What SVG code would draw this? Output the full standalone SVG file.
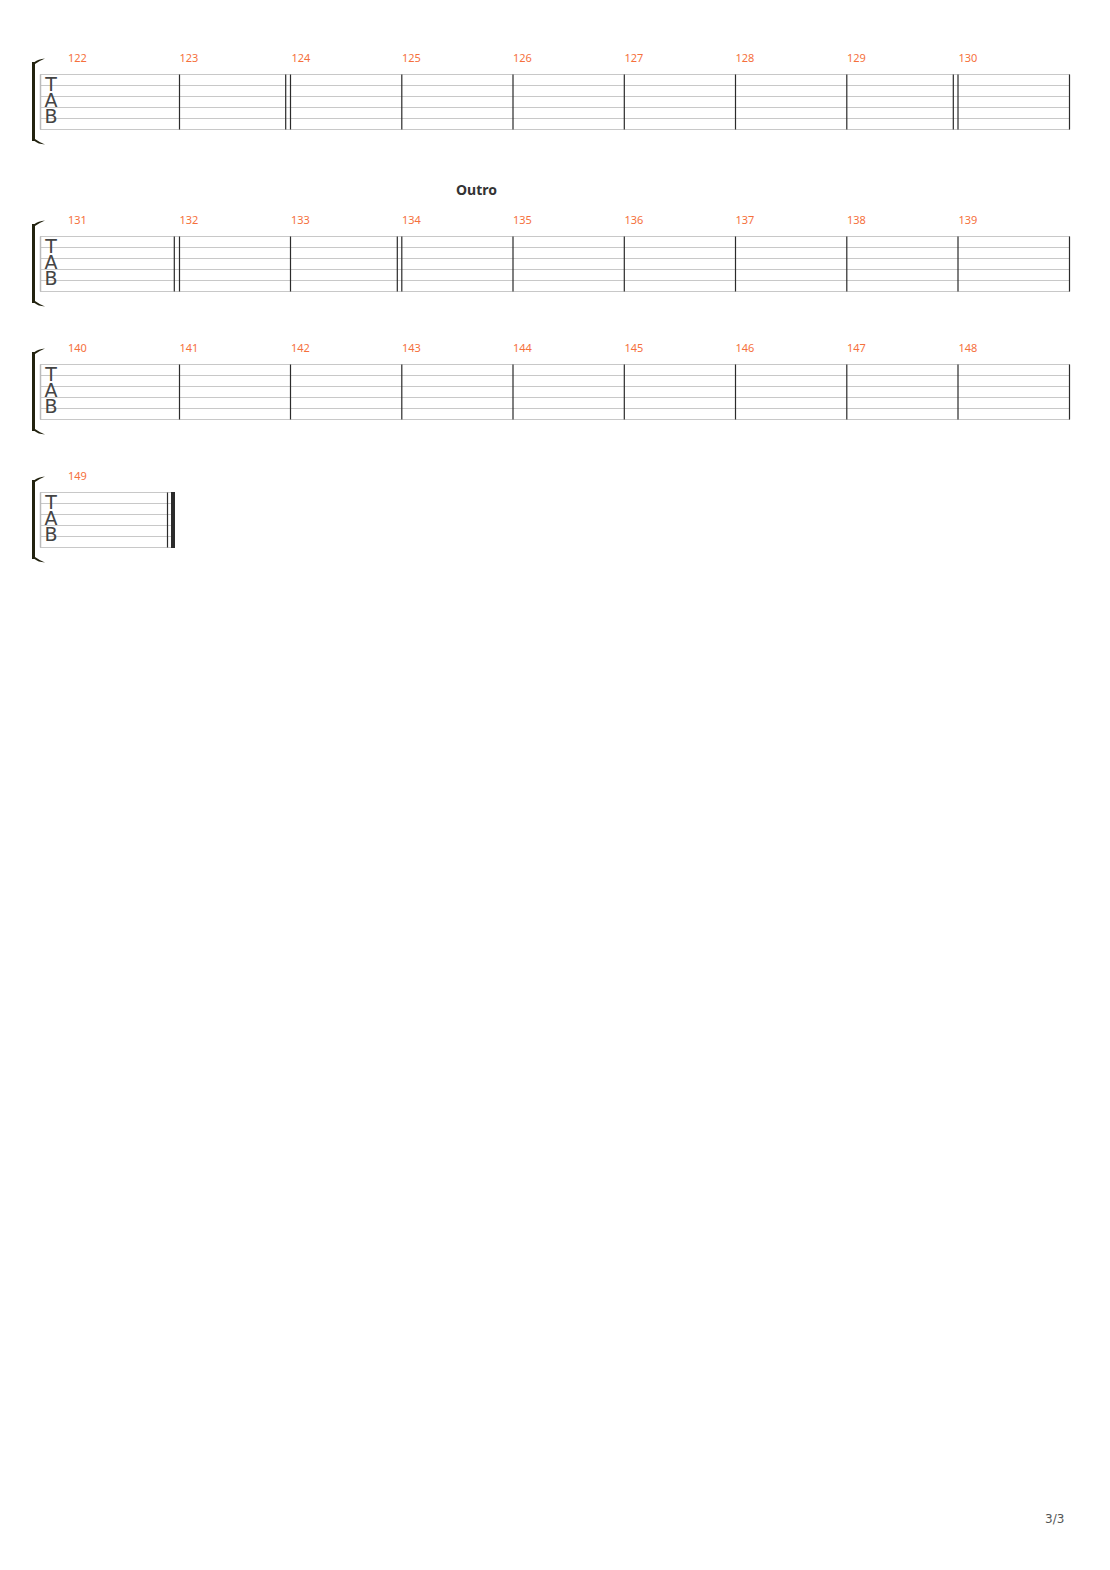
<svg xmlns="http://www.w3.org/2000/svg" width="1110" height="1570" viewBox="0 0 1110 1570">
<defs>
<style>
.st{stroke:#c8c8c8;stroke-width:1;fill:none}
.bl{stroke:#2b2b2b;stroke-width:1.2;fill:none}
.num{font-family:"Noto Sans","Liberation Sans",sans-serif;font-size:11px;fill:#f5703c}
.tab{font-family:"DejaVu Sans","Liberation Sans",sans-serif;font-size:19px;fill:#444;text-anchor:middle}
.sec{font-family:"Noto Sans","Liberation Sans",sans-serif;font-size:14px;font-weight:bold;fill:#333}
.pg{font-family:"DejaVu Sans","Liberation Sans",sans-serif;font-size:12px;fill:#555}
</style>
<g id="staff6">
<path class="st" d="M40 0.5H1070M40 11.5H1070M40 22.5H1070M40 33.5H1070M40 44.5H1070M40 55.5H1070"/>
<line x1="40.5" y1="0.5" x2="40.5" y2="55.5" stroke="#bbbbbb" stroke-width="1.5"/>
</g>
<g id="clef">
<path d="M32 -12 L34.5 -12 Q38 -15 45 -15.5 Q39 -13 35 -10 L35 65 Q39 68 45 70.5 Q38 70 34.5 67 L32 67 Z" fill="#22220f"/>
<text class="tab" x="51" y="17">T</text>
<text class="tab" x="51" y="33">A</text>
<text class="tab" x="51" y="49">B</text>
</g>
<g id="bars">
<path class="bl" d="M179.5 0.5V55.5M290.5 0.5V55.5M401.8 0.5V55.5M513 0.5V55.5M624.3 0.5V55.5M735.5 0.5V55.5M846.8 0.5V55.5M958 0.5V55.5M1069.5 0.5V55.5"/>
</g>
</defs>

<g id="system1" transform="translate(0,74)">
<use href="#staff6"/>
<use href="#clef"/>
<use href="#bars"/>
<path class="bl" d="M285.7 0.5V55.5M953.3 0.5V55.5"/>
<g class="num">
<text x="68" y="-12">122</text>
<text x="179.5" y="-12">123</text>
<text x="291.5" y="-12">124</text>
<text x="402" y="-12">125</text>
<text x="513" y="-12">126</text>
<text x="624.5" y="-12">127</text>
<text x="735.5" y="-12">128</text>
<text x="847" y="-12">129</text>
<text x="958.5" y="-12">130</text>
</g>
</g>

<g id="outro-label">
<text class="sec" x="456" y="195">Outro</text>
</g>

<g id="system2" transform="translate(0,236)">
<use href="#staff6"/>
<use href="#clef"/>
<use href="#bars"/>
<path class="bl" d="M174.3 0.5V55.5M397.3 0.5V55.5"/>
<g class="num">
<text x="68" y="-12">131</text>
<text x="179.5" y="-12">132</text>
<text x="291" y="-12">133</text>
<text x="402" y="-12">134</text>
<text x="513" y="-12">135</text>
<text x="624.5" y="-12">136</text>
<text x="735.5" y="-12">137</text>
<text x="847" y="-12">138</text>
<text x="958.5" y="-12">139</text>
</g>
</g>

<g id="system3" transform="translate(0,364)">
<use href="#staff6"/>
<use href="#clef"/>
<use href="#bars"/>
<g class="num">
<text x="68" y="-12">140</text>
<text x="179.5" y="-12">141</text>
<text x="291" y="-12">142</text>
<text x="402" y="-12">143</text>
<text x="513" y="-12">144</text>
<text x="624.5" y="-12">145</text>
<text x="735.5" y="-12">146</text>
<text x="847" y="-12">147</text>
<text x="958.5" y="-12">148</text>
</g>
</g>

<g id="system4" transform="translate(0,492)">
<path class="st" d="M40 0.5H175M40 11.5H175M40 22.5H175M40 33.5H175M40 44.5H175M40 55.5H175"/>
<line x1="40.5" y1="0.5" x2="40.5" y2="55.5" stroke="#bbbbbb" stroke-width="1.5"/>
<use href="#clef"/>
<path class="bl" d="M167.5 0.5V55.5"/>
<rect x="171" y="0" width="4" height="56" fill="#2b2b2b"/>
<g class="num">
<text x="68" y="-12">149</text>
</g>
</g>

<g id="page-number">
<text class="pg" x="1045" y="1523">3/3</text>
</g>
</svg>
